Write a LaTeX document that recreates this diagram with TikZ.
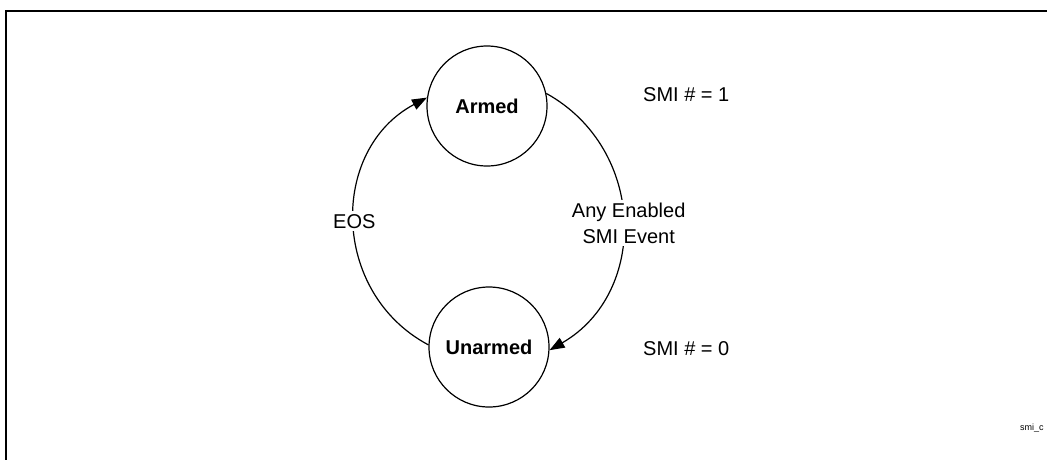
\documentclass[tikz,border=0pt]{standalone}
\usepackage{fontspec}
\setmainfont{Liberation Sans}
\usetikzlibrary{arrows.meta}
\begin{document}
\begin{tikzpicture}[x=1pt,y=1pt,
  state/.style={draw, circle, line width=1.2pt, minimum size=120pt, inner sep=0pt, font=\fontsize{20}{24}\selectfont\bfseries},
  trans/.style={line width=1.2pt, -{Triangle[length=15pt,width=11pt]}},
  lbl/.style={font=\fontsize{20}{26}\selectfont, fill=white, inner sep=3pt, align=center},
  plain/.style={font=\fontsize{20}{24}\selectfont, inner sep=0pt},
  tiny/.style={font=\fontsize{9}{11}\selectfont, inner sep=0pt}]
\useasboundingbox (0,0) rectangle (1047,-459);
\clip (0,0) rectangle (1047,-459);
\draw[line width=2pt] (6,-11) rectangle (1080,-490);
\node[state] (armed) at (487,-106) {\raisebox{-3pt}{Armed}};
\node[state] (unarmed) at (489,-347) {\raisebox{-3pt}{Unarmed}};
\draw[trans] (armed.12) to[out=-29, in=30, looseness=1.14]
  node[pos=0.5, lbl, xshift=6pt, yshift=-2pt] (evt) {Any Enabled\\SMI Event} (unarmed.-3);
\draw[trans] (unarmed.178) to[out=152, in=208, looseness=1.145]
  node[pos=0.5, lbl] (eos) {EOS} (armed.172);
\node[plain, anchor=base west] (s1) at (643,-101) {SMI \# = 1};
\node[plain, anchor=base west] (s0) at (643,-355) {SMI \# = 0};
\node[tiny, anchor=base west] (fig) at (1020,-430) {smi\_c};
\end{tikzpicture}
\end{document}
